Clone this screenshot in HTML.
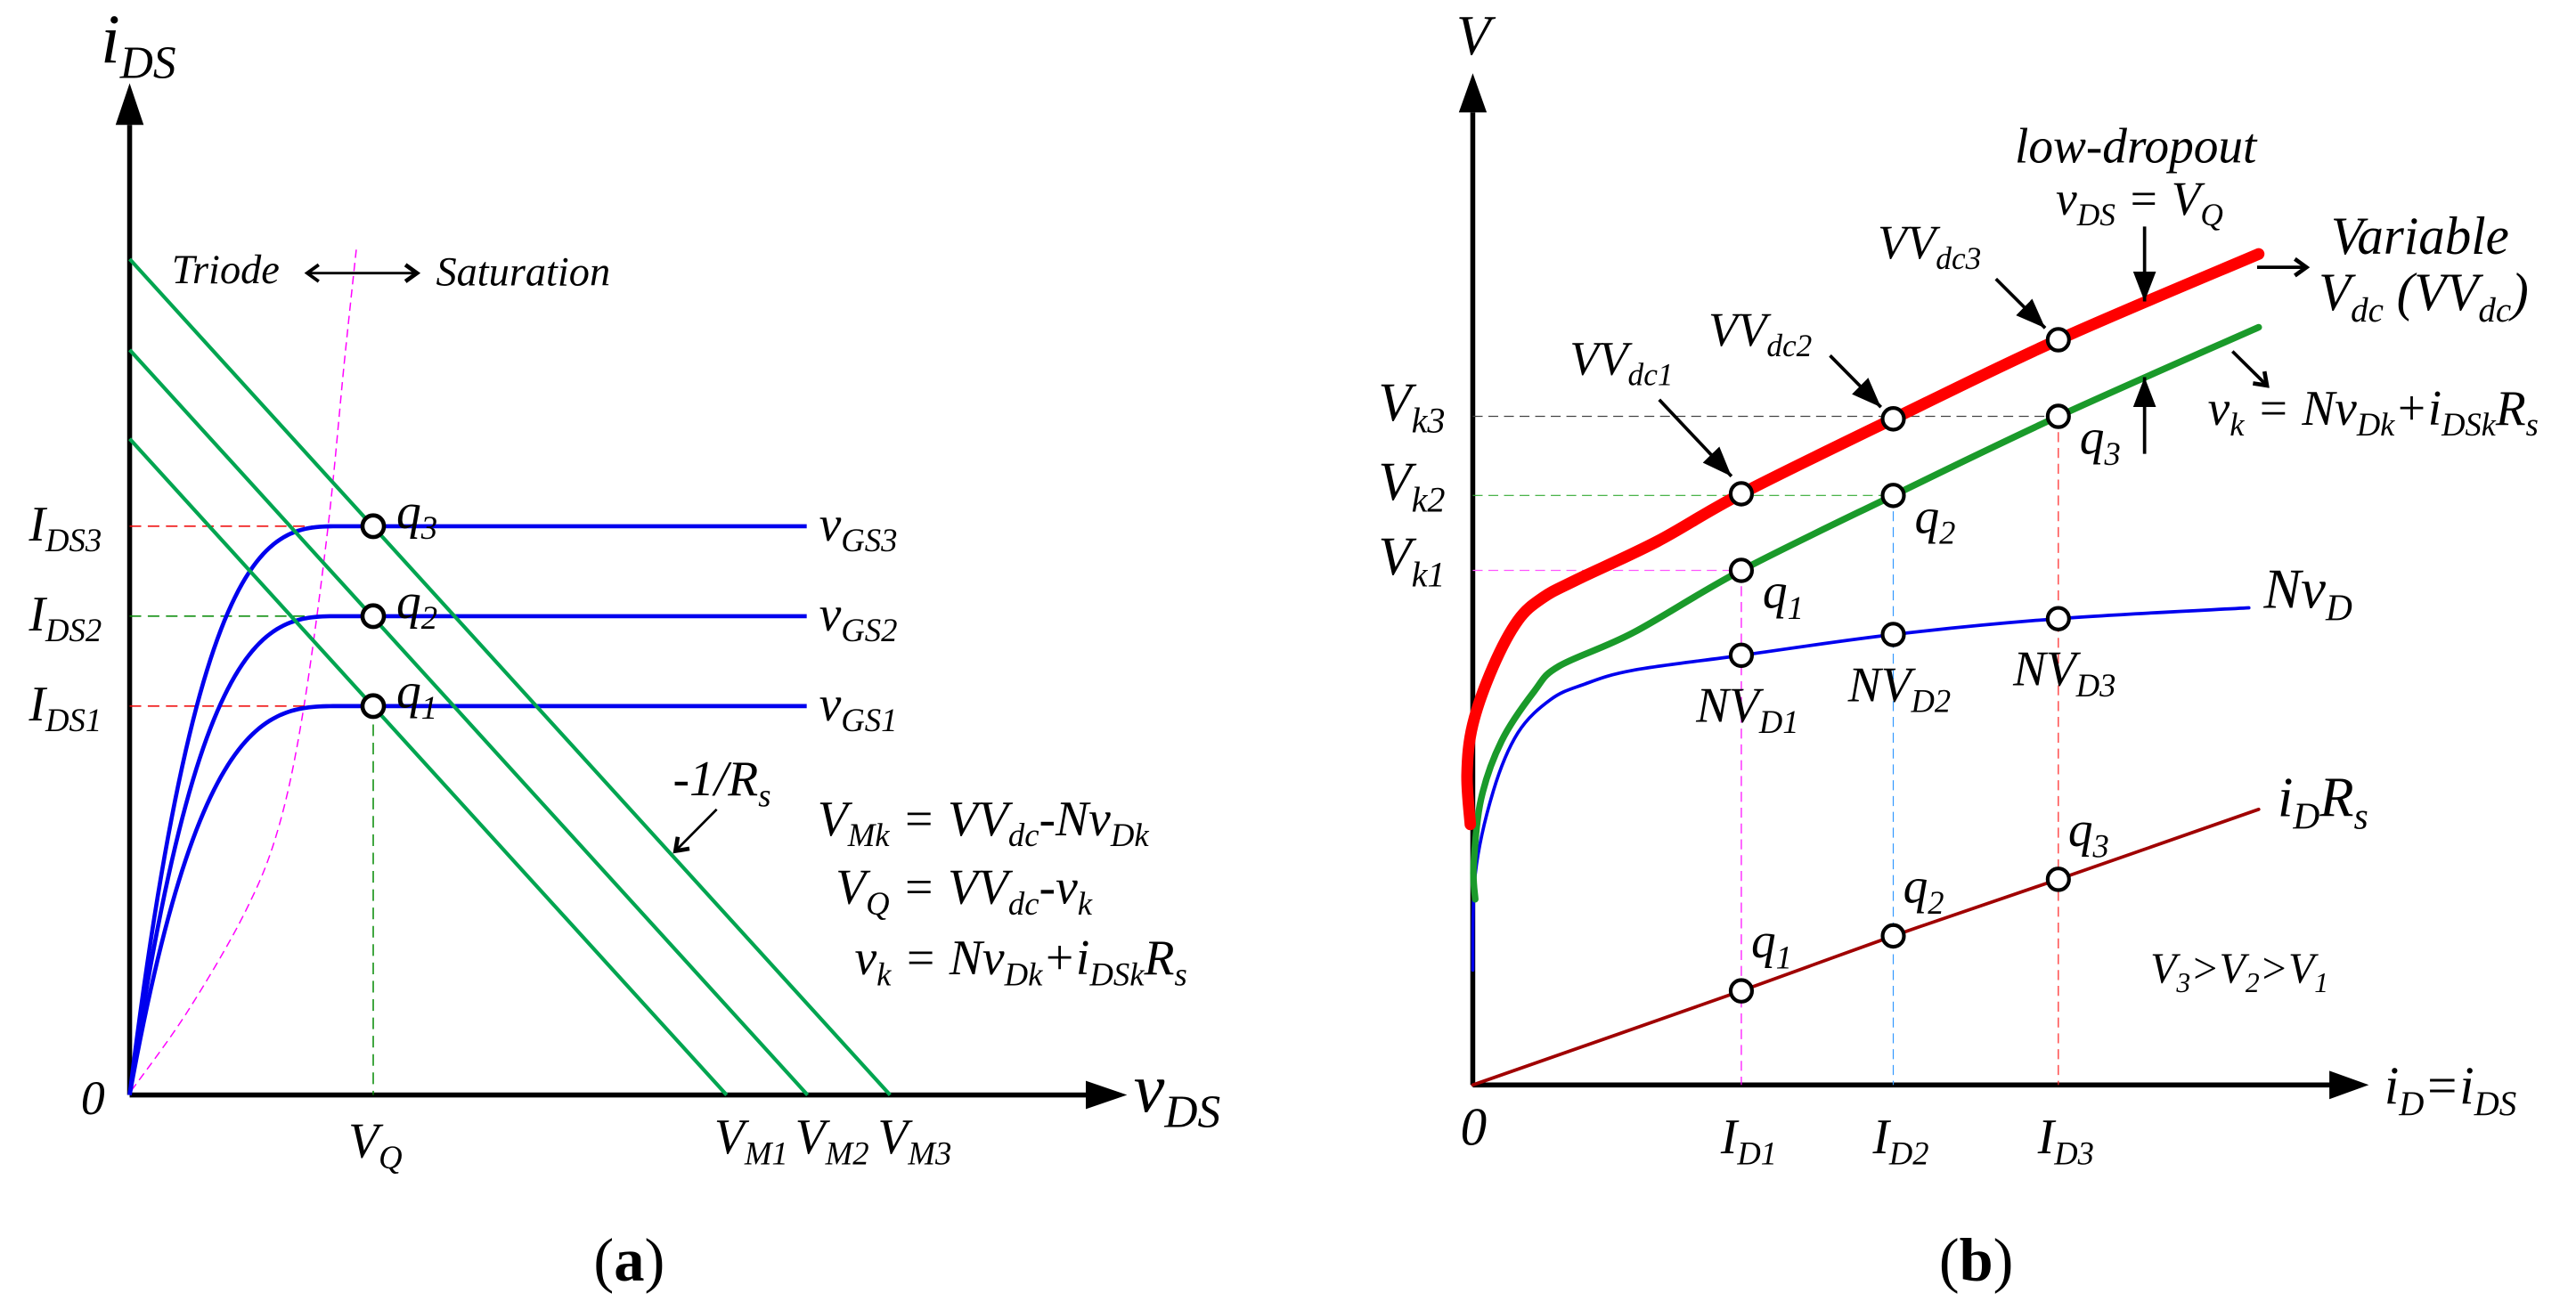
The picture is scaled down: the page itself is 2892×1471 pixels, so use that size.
<!DOCTYPE html>
<html><head><meta charset="utf-8"><style>
html,body{margin:0;padding:0;background:#fff}
svg{display:block}
text{font-family:"Liberation Serif",serif;font-style:italic;fill:#000}
.up{font-style:normal}
</style></head><body>
<svg id="fig" width="2892" height="1471" viewBox="0 0 2892 1471" xmlns="http://www.w3.org/2000/svg">
<defs>
<marker id="open" markerWidth="24" markerHeight="24" refX="20" refY="12" orient="auto" markerUnits="userSpaceOnUse"><path d="M6,2 L20,12 L6,22" fill="none" stroke="#000" stroke-width="5"/></marker>
<marker id="fill" markerWidth="40" markerHeight="40" refX="36" refY="20" orient="auto" markerUnits="userSpaceOnUse"><path d="M0,6 L36,20 L0,34 Z" fill="#000"/></marker>
<marker id="openS" markerWidth="24" markerHeight="24" refX="4" refY="12" orient="auto" markerUnits="userSpaceOnUse"><path d="M18,2 L4,12 L18,22" fill="none" stroke="#000" stroke-width="4"/></marker>
</defs>
<g id="pa" transform="scale(0.927,0.935)"></g>
<g id="pb" transform="translate(1446,0) scale(0.922,0.935)"></g>
</svg>
<script>
// ---------- Panel (a) data ----------
const aIDS = [4.67, 5.75, 6.83];
const aVQ = 2.95;
const aVM = [7.23, 8.21, 9.21];
const aInvRs = 1.09;
const aVsat = [2.55, 2.55, 2.55];
const aVGSend = 8.2;
const aBoundV = [0.02, 0.7, 1.4, 1.8, 2.1, 2.4, 2.6, 2.75];
const aBoundI = [0.05, 1.0, 2.2, 3.2, 4.6, 6.8, 8.8, 10.2];
// ---------- Panel (b) data ----------
const bID = [3.27, 5.12, 7.13];
const bRedI = [-0.03,-0.07,0,0.25,0.55,0.85,1.25,2.25,3.27,5.12,7.13,9.57];
const bRedV = [3.13,3.73,4.33,5.03,5.58,5.85,6.06,6.53,7.10,8.00,8.95,9.98];
const bGreenI = [0.03,0.01,0.10,0.35,0.75,1.05,1.95,3.27,5.12,7.13,9.57];
const bGreenV = [2.23,2.63,3.43,4.13,4.73,5.03,5.43,6.18,7.08,8.03,9.10];
const bBlueI = [0.0,0.03,0.25,0.55,0.95,1.35,1.95,3.27,5.12,7.13,9.45];
const bBlueV = [1.38,2.53,3.53,4.23,4.63,4.81,4.98,5.16,5.41,5.60,5.73];
const bRsI = [0, 3.27, 5.12, 7.13, 9.57];
const bRsV = [0, 1.13, 1.79, 2.47, 3.31];
const bRedQ = [7.10, 8.00, 8.95];
const bGreenQ = [6.18, 7.08, 8.03];
const bBlueQ = [5.16, 5.41, 5.60];
const bRsQ = [1.13, 1.79, 2.47];

const NS = "http://www.w3.org/2000/svg";
function mk(parent, tag, attrs){ const e=document.createElementNS(NS,tag); for(const k in attrs) e.setAttribute(k,attrs[k]); parent.appendChild(e); return e; }
function txt(parent, x, y, size, parts, name, extra){
  const t=mk(parent,'text',{x:x,y:y,'font-size':size,'font-family':'Liberation Serif, serif','xml:space':'preserve'});
  
  
  if(extra) for(const k in extra) t.setAttribute(k,extra[k]);
  parts.forEach(p=>{
    const s=document.createElementNS(NS,'tspan');
    if(p[1]==='sub'){ s.setAttribute('font-size', size*0.66); s.setAttribute('dy', size*0.22); }
    else if(p[1]==='back'){ s.setAttribute('dy', -size*0.22); }
    s.textContent=p[0]; t.appendChild(s);
  });
  return t;
}
function S(str){
  const parts=[]; let re=/([^_]+)|_\{([^}]*)\}/g, m, sub=false;
  while((m=re.exec(str))){ if(m[1]!==undefined){ parts.push([m[1], sub?'back':'n']); sub=false;} else { parts.push([m[2],'sub']); sub=true; } }
  return parts;
}
function smooth(P){
  let d='M'+P[0][0]+','+P[0][1];
  for(let i=0;i<P.length-1;i++){
    const p0=P[Math.max(0,i-1)],p1=P[i],p2=P[i+1],p3=P[Math.min(P.length-1,i+2)];
    const c1=[p1[0]+(p2[0]-p0[0])/6,p1[1]+(p2[1]-p0[1])/6];
    const c2=[p2[0]-(p3[0]-p1[0])/6,p2[1]-(p3[1]-p1[1])/6];
    d+=` C${c1[0]},${c1[1]} ${c2[0]},${c2[1]} ${p2[0]},${p2[1]}`;
  }
  return d;
}

// ================= Panel A =================
const A = document.getElementById('pa');
const ax = v => 157 + v*100, ay = i => 1315 - i*100;
let e;
e=mk(A,'line',{x1:ax(0),y1:ay(0),x2:ax(0),y2:150,stroke:'#000','stroke-width':6});
 
e=mk(A,'path',{d:`M${ax(0)-17},150 L${ax(0)},100 L${ax(0)+17},150 Z`,fill:'#000'});
 
e=mk(A,'line',{x1:ax(0),y1:ay(0),x2:1315,y2:ay(0),stroke:'#000','stroke-width':6});
 
e=mk(A,'path',{d:`M1315,${ay(0)-17} L1365,${ay(0)} L1315,${ay(0)+17} Z`,fill:'#000'});
 
e=mk(A,'path',{d:smooth(aBoundV.map((v,k)=>[ax(v),ay(aBoundI[k])])),fill:'none',stroke:'#ff00ff','stroke-width':1.6,'stroke-dasharray':'10,6'});
 
const aGuideCol=['#e00','#080','#e00'];
aIDS.forEach((I,k)=>{
  e=mk(A,'line',{x1:ax(0),y1:ay(I),x2:ax(aVQ),y2:ay(I),stroke:aGuideCol[2-k],'stroke-width':1.6,'stroke-dasharray':'14,8'});
   
});
e=mk(A,'line',{x1:ax(aVQ),y1:ay(aIDS[0]),x2:ax(aVQ),y2:ay(0),stroke:'#080','stroke-width':1.6,'stroke-dasharray':'14,8'});
 
aIDS.forEach((I,k)=>{
  const pts=[]; const vs=aVsat[k];
  for(let j=0;j<=60;j++){ const t=j/60, v=vs*t; pts.push(ax(v)+','+ay(I*(1-Math.pow(1-t,3)))); }
  pts.push(ax(aVGSend)+','+ay(I));
  e=mk(A,'polyline',{points:pts.join(' '),fill:'none',stroke:'#0000ee','stroke-width':5});
   
});
aVM.forEach((V,k)=>{
  e=mk(A,'line',{x1:ax(0),y1:ay(V*aInvRs),x2:ax(V),y2:ay(0),stroke:'#00a550','stroke-width':4.5});
   
});
aIDS.forEach((I,k)=>{
  e=mk(A,'circle',{cx:ax(aVQ),cy:ay(I),r:13,fill:'#fff',stroke:'#000','stroke-width':5});
   
  txt(A,480,ay(I)+2,60,S('q_{'+(k+1)+'}'),'q-label-'+(k+1));
  txt(A,35,ay(I)+17,60,S('I_{DS'+(k+1)+'}'),'ids-tick-'+(k+1));
  txt(A,992,ay(I)+17,60,S('v_{GS'+(k+1)+'}'),'vgs-label-'+(k+1));
  txt(A,ax(aVM[k])-15,1385,60,S('V_{M'+(k+1)+'}'),'vm-tick-'+(k+1));
});
txt(A,122,75,84,S('i_{DS}'),'y-axis-title');
txt(A,1373,1335,84,S('v_{DS}'),'x-axis-title');
txt(A,98,1338,58,[['0','n']],'origin-label');
txt(A,ax(aVQ)-30,1390,60,S('V_{Q}'),'vq-tick');
txt(A,208,340,50,[['Triode','n']],'triode-label');
txt(A,528,343,50,[['Saturation','n']],'saturation-label');
e=mk(A,'line',{x1:372,y1:328,x2:505,y2:328,stroke:'#000','stroke-width':3,'marker-end':'url(#open)','marker-start':'url(#openS)'});
 
txt(A,815,955,60,S('-1/R_{s}'),'slope-label');
e=mk(A,'line',{x1:868,y1:972,x2:818,y2:1022,stroke:'#000','stroke-width':3,'marker-end':'url(#open)'});
 
txt(A,990,1003,60,S('V_{Mk}  =  VV_{dc}-Nv_{Dk}'),'equation-vmk');
txt(A,1012,1085,60,S('V_{Q}  =  VV_{dc}-v_{k}'),'equation-vq');
txt(A,1035,1170,60,S('v_{k}  =  Nv_{Dk}+i_{DSk}R_{s}'),'equation-vk');
e=txt(A,762,1538,74,[['(','n'],['a','n'],[')','n']],'panel-a-caption',{'text-anchor':'middle',class:'up','font-style':'normal'});
e.childNodes[1].setAttribute('font-weight','bold');

// ================= Panel B =================
const B = document.getElementById('pb');
const bx = i => 225 + i*100, by = v => 1303 - v*100;
e=mk(B,'line',{x1:bx(0),y1:by(0),x2:bx(0),y2:135,stroke:'#000','stroke-width':6});
 
e=mk(B,'path',{d:`M${bx(0)-17},135 L${bx(0)},88 L${bx(0)+17},135 Z`,fill:'#000'});
 
e=mk(B,'line',{x1:bx(0),y1:by(0),x2:1270,y2:by(0),stroke:'#000','stroke-width':6});
 
e=mk(B,'path',{d:`M1268,${by(0)-17} L1316,${by(0)} L1268,${by(0)+17} Z`,fill:'#000'});
 
const hCol=['#ff55ff','#3a3','#444'];
bGreenQ.forEach((v,k)=>{
  e=mk(B,'line',{x1:bx(0),y1:by(v),x2:bx(bID[k]),y2:by(v),stroke:hCol[k],'stroke-width':1.3,'stroke-dasharray':'12,7'});
   
  txt(B,110,by(v)+5,66,S('V_{k'+(k+1)+'}'),'vk-tick-'+(k+1));
});
const vCol=['#ff00ff','#3399ff','#ff2222'];
bID.forEach((I,k)=>{
  e=mk(B,'line',{x1:bx(I),y1:by(bGreenQ[k]),x2:bx(I),y2:by(0),stroke:vCol[k],'stroke-width':1.3,'stroke-dasharray':'12,7'});
   
  txt(B,bx(I)-25,1385,60,S('I_{D'+(k+1)+'}'),'id-tick-'+(k+1));
});
function series(I,V,col,w,name){
  e=mk(B,'path',{d:smooth(I.map((x,k)=>[bx(x),by(V[k])])),fill:'none',stroke:col,'stroke-width':w,'stroke-linecap':'round','stroke-linejoin':'round'});
   
}
series(bRsI,bRsV,'#a00000',4,'idrs-line');
series(bBlueI,bBlueV,'#0000ee',4,'nvd-curve');
series(bGreenI,bGreenV,'#1a9a2a',8,'vk-curve');
series(bRedI,bRedV,'#ff0000',14,'vdc-curve');
function qs(vals,name){
  bID.forEach((I,k)=>{
    e=mk(B,'circle',{cx:bx(I),cy:by(vals[k]),r:13,fill:'#fff',stroke:'#000','stroke-width':4.5});
     
  });
}
qs(bRedQ,'vvdc-point'); qs(bGreenQ,'vk-point'); qs(bBlueQ,'nvd-point'); qs(bRsQ,'idrs-point');
bID.forEach((I,k)=>{
  txt(B,bx(I)+26,by(bGreenQ[k])+45,60,S('q_{'+(k+1)+'}'),'vk-q-label-'+(k+1));
  txt(B,bx(I)+12,by(bRsQ[k])-40,60,S('q_{'+(k+1)+'}'),'idrs-q-label-'+(k+1));
  txt(B,bx(I)-55,by(bBlueQ[k])+80,60,S('NV_{D'+(k+1)+'}'),'nvd-label-'+(k+1));
});
txt(B,205,65,68,[['V','n']],'y-axis-title');
txt(B,210,1375,64,[['0','n']],'origin-label');
txt(B,1335,1325,64,S('i_{D}=i_{DS}'),'x-axis-title');
txt(B,1188,730,68,S('Nv_{D}'),'nvd-series-label');
txt(B,1205,980,68,S('i_{D}R_{s}'),'idrs-series-label');
txt(B,1050,1180,52,S('V_{3}>V_{2}>V_{1}'),'inequality-label');
txt(B,343,450,58,S('VV_{dc1}'),'vvdc1-label');
txt(B,512,415,58,S('VV_{dc2}'),'vvdc2-label');
txt(B,718,310,58,S('VV_{dc3}'),'vvdc3-label');
[[452,480,540,572],[660,427,722,489],[862,335,922,394]].forEach((a,k)=>{
  e=mk(B,'line',{x1:a[0],y1:a[1],x2:a[2],y2:a[3],stroke:'#000','stroke-width':4,'marker-end':'url(#fill)'});
   
});
txt(B,885,195,60,[['low-dropout','n']],'low-dropout-label');
txt(B,935,258,58,S('v_{DS}  =  V_{Q}'),'vds-vq-label');
e=mk(B,'line',{x1:1043,y1:272,x2:1043,y2:362,stroke:'#000','stroke-width':4,'marker-end':'url(#fill)'});
 
e=mk(B,'line',{x1:1043,y1:545,x2:1043,y2:453,stroke:'#000','stroke-width':4,'marker-end':'url(#fill)'});
 
txt(B,1270,305,64,[['Variable','n']],'variable-label');
txt(B,1255,372,64,S('V_{dc} (VV_{dc})'),'vdc-label');
e=mk(B,'line',{x1:1180,y1:321,x2:1240,y2:321,stroke:'#000','stroke-width':4,'marker-end':'url(#open)'});
 
e=mk(B,'line',{x1:1150,y1:422,x2:1192,y2:463,stroke:'#000','stroke-width':4,'marker-end':'url(#open)'});
 
txt(B,1120,510,60,S('v_{k}  =  Nv_{Dk}+i_{DSk}R_{s}'),'vk-equation');
e=txt(B,838,1538,74,[['(','n'],['b','n'],[')','n']],'panel-b-caption',{'text-anchor':'middle',class:'up','font-style':'normal'});
e.childNodes[1].setAttribute('font-weight','bold');
</script>
</body></html>
